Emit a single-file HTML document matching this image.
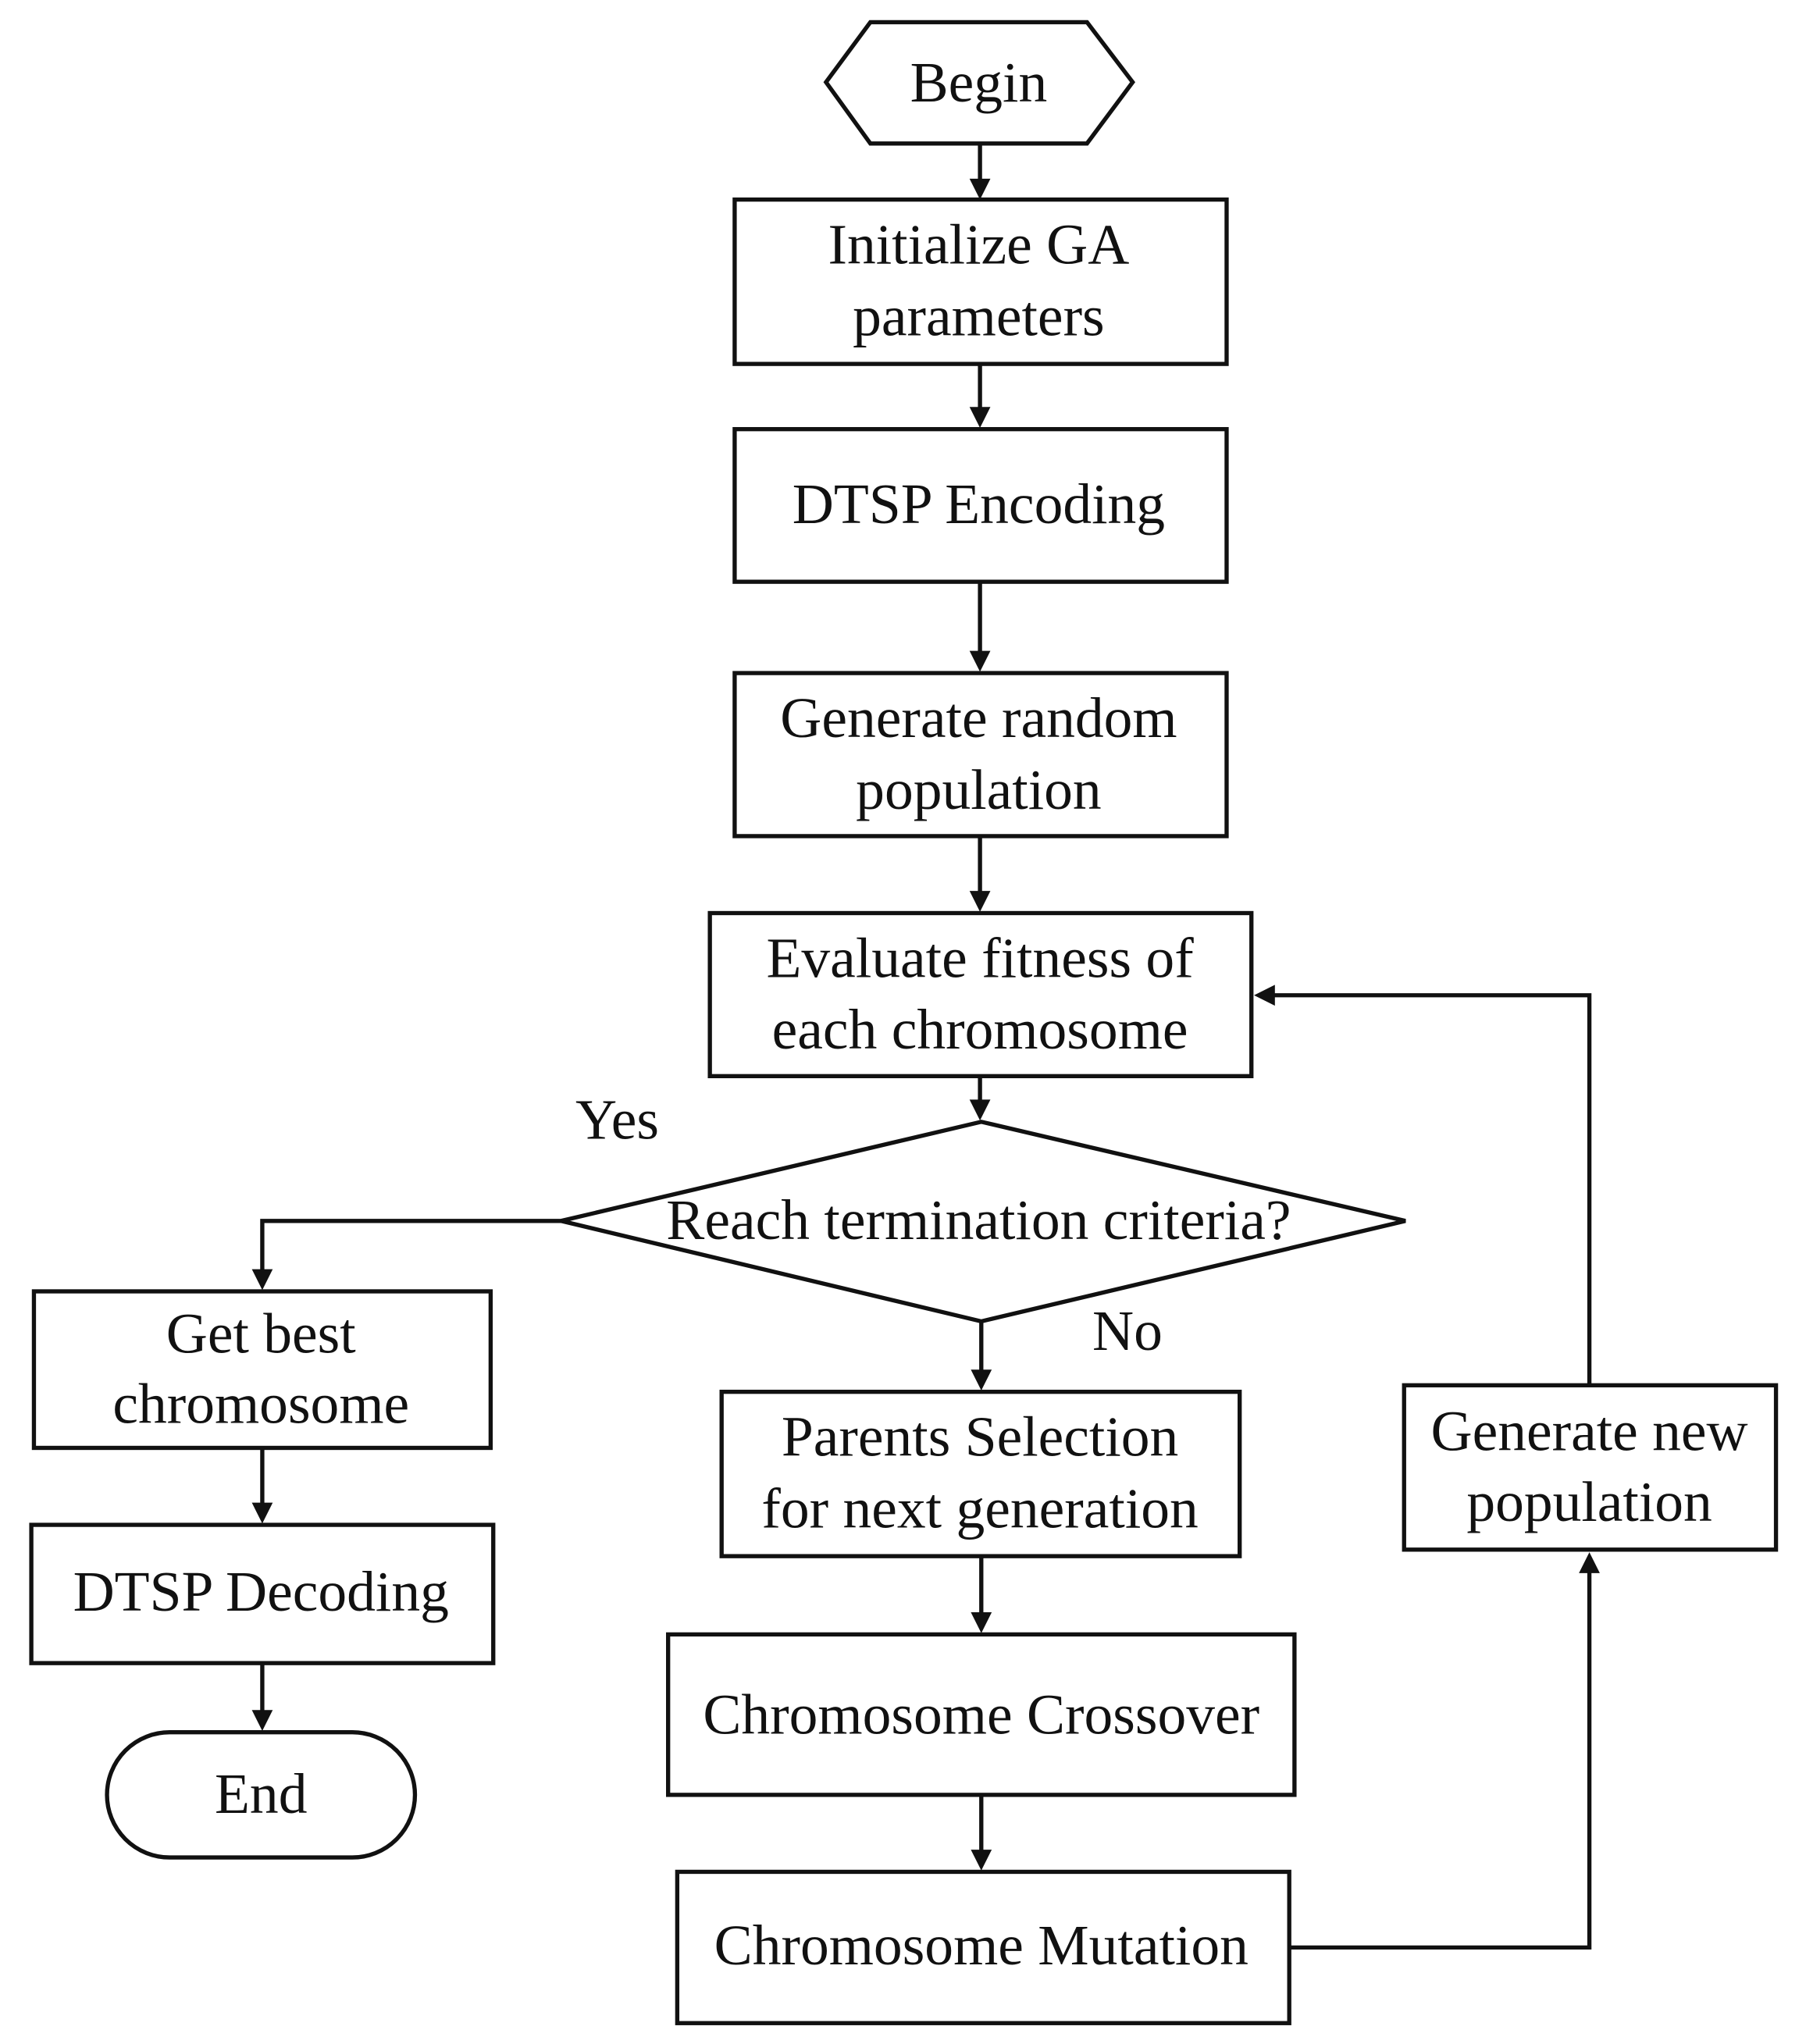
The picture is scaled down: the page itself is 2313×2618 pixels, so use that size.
<!DOCTYPE html>
<html><head><meta charset="utf-8"><style>
html,body{margin:0;padding:0;background:#fff;}
svg{display:block;}
text{font-family:"Liberation Serif",serif;font-size:44px;fill:#111;text-anchor:middle;dominant-baseline:central;}
</style></head><body>
<svg width="2313" height="2618" viewBox="0 0 1384 1567" preserveAspectRatio="none" xmlns="http://www.w3.org/2000/svg">
<g fill="none" stroke="#111" stroke-width="3.2">
<polygon points="633,63 667,17 833,17 868,63 833,110 667,110" fill="#fff"/>
<rect x="563" y="153" width="377" height="126"/>
<rect x="563" y="329" width="377" height="117"/>
<rect x="563" y="516" width="377" height="125"/>
<rect x="544" y="700" width="415" height="125"/>
<polygon points="430,936 752,860 1077,936 752,1013"/>
<rect x="26" y="990" width="350" height="120"/>
<rect x="24" y="1169" width="354" height="106"/>
<rect x="82" y="1328" width="236" height="96" rx="48"/>
<rect x="553" y="1067" width="397" height="126"/>
<rect x="512" y="1253" width="480" height="123"/>
<rect x="519" y="1435" width="469" height="116"/>
<rect x="1076" y="1062" width="285" height="126"/>
<line x1="751" y1="110" x2="751" y2="140"/>
<line x1="751" y1="279" x2="751" y2="315"/>
<line x1="751" y1="446" x2="751" y2="502"/>
<line x1="751" y1="641" x2="751" y2="686"/>
<line x1="751" y1="825" x2="751" y2="846"/>
<polyline points="430,936 201,936 201,976"/>
<line x1="201" y1="1110" x2="201" y2="1155"/>
<line x1="201" y1="1275" x2="201" y2="1314"/>
<line x1="752" y1="1013" x2="752" y2="1053"/>
<line x1="752" y1="1193" x2="752" y2="1239"/>
<line x1="752" y1="1376" x2="752" y2="1421"/>
<polyline points="988,1493 1218,1493 1218,1204"/>
<polyline points="1218,1062 1218,763 975,763"/>
</g>
<g fill="#111">
<path d="M743,137 L759,137 L751,153 z"/>
<path d="M743,312 L759,312 L751,328 z"/>
<path d="M743,499 L759,499 L751,515 z"/>
<path d="M743,683 L759,683 L751,699 z"/>
<path d="M743,843 L759,843 L751,859 z"/>
<path d="M193,973 L209,973 L201,989 z"/>
<path d="M193,1152 L209,1152 L201,1168 z"/>
<path d="M193,1311 L209,1311 L201,1327 z"/>
<path d="M744,1050 L760,1050 L752,1066 z"/>
<path d="M744,1236 L760,1236 L752,1252 z"/>
<path d="M744,1418 L760,1418 L752,1434 z"/>
<path d="M1210,1206 L1226,1206 L1218,1190 z"/>
<path d="M977,755 L977,771 L961,763 z"/>
</g>
<text x="750" y="63">Begin</text>
<text x="750" y="187">Initialize GA</text>
<text x="750" y="242">parameters</text>
<text x="750" y="386">DTSP Encoding</text>
<text x="750" y="550">Generate random</text>
<text x="750" y="605">population</text>
<text x="751" y="734">Evaluate fitness of</text>
<text x="751" y="789">each chromosome</text>
<text x="750" y="935">Reach termination criteria?</text>
<text x="473" y="858">Yes</text>
<text x="864" y="1020">No</text>
<text x="200" y="1022">Get best</text>
<text x="200" y="1076">chromosome</text>
<text x="200" y="1220">DTSP Decoding</text>
<text x="200" y="1375">End</text>
<text x="751" y="1101">Parents Selection</text>
<text x="751" y="1156">for next generation</text>
<text x="752" y="1314">Chromosome Crossover</text>
<text x="752" y="1491">Chromosome Mutation</text>
<text x="1218" y="1097">Generate new</text>
<text x="1218" y="1151">population</text>
</svg>
</body></html>
